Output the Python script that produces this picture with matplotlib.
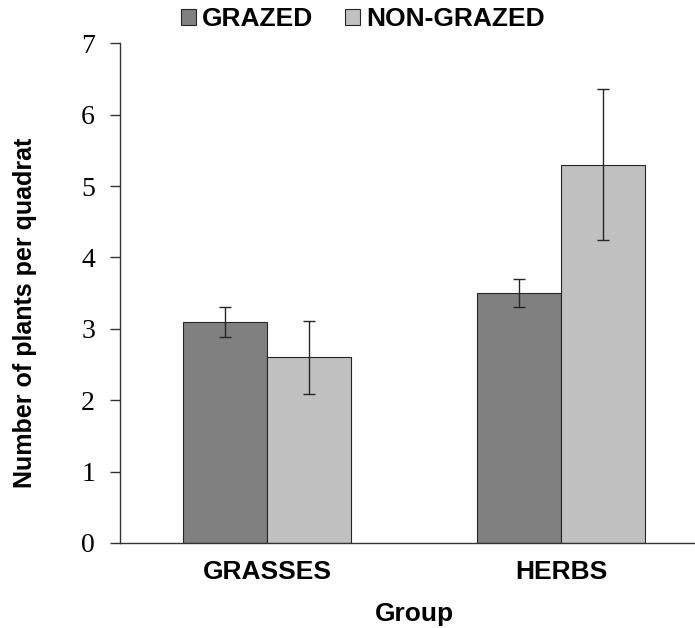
import matplotlib
matplotlib.use("Agg")
import matplotlib.pyplot as plt
from matplotlib.patches import Patch
import numpy as np

groups = ["GRASSES", "HERBS"]
series = ["GRAZED", "NON-GRAZED"]
grazed = [3.1, 3.5]
grazed_err = [0.21, 0.2]
nongrazed = [2.6, 5.3]
nongrazed_err = [0.51, 1.06]
colors = ["#808080", "#c0c0c0"]
yticks = [0, 1, 2, 3, 4, 5, 6, 7]

W, H = 695, 628
fig = plt.figure(figsize=(W / 100, H / 100), dpi=100)
ax = fig.add_axes([120 / W, 85 / H, (708 - 120) / W, 499.7 / H])

x = np.arange(len(groups))
bw = 0.2857
ekw = dict(ecolor="#262626", elinewidth=1.0, capsize=4.2, capthick=1.0)
ax.bar(x - bw / 2, grazed, bw, color=colors[0], edgecolor="#262626", linewidth=0.8,
       yerr=grazed_err, error_kw=ekw, zorder=2)
ax.bar(x + bw / 2, nongrazed, bw, color=colors[1], edgecolor="#262626", linewidth=0.8,
       yerr=nongrazed_err, error_kw=ekw, zorder=2)

ax.set_xlim(-0.5, 1.5)
ax.set_ylim(0, 7)
ax.set_yticks(yticks)
ax.set_yticklabels([str(v) for v in yticks], fontfamily="Liberation Serif", fontsize=20)
ax.set_xticks(x)
ax.set_xticklabels(groups, fontfamily="Liberation Sans", fontweight="bold", fontsize=19)
ax.tick_params(axis="x", length=0, pad=12)
ax.tick_params(axis="y", length=7, width=1, color="#333333", pad=11, direction="out")

for s in ["top", "right"]:
    ax.spines[s].set_visible(False)
for s in ["left", "bottom"]:
    ax.spines[s].set_color("#333333")
    ax.spines[s].set_linewidth(1.0)

ax.set_xlabel("Group", fontfamily="Liberation Sans", fontweight="bold", fontsize=19)
ax.xaxis.set_label_coords(0.5, (26.3 - 85) / 499.7)
ax.xaxis.label.set_va("top")

ax.set_ylabel("Number of plants per quadrat", fontfamily="Liberation Sans",
              fontweight="bold", fontsize=18)
ax.yaxis.set_label_coords((37 - 120) / 588, (315.5 - 85) / 499.7)

handles = [Patch(facecolor=colors[0], edgecolor="#262626", linewidth=0.8),
           Patch(facecolor=colors[1], edgecolor="#262626", linewidth=0.8)]
fig.legend(handles, series, loc="center", bbox_to_anchor=(363 / W, 1 - 19.5 / H),
           ncol=2, frameon=False, handlelength=0.55, handleheight=0.55,
           handletextpad=0.25, columnspacing=1.2,
           prop=dict(family="Liberation Sans", weight="bold", size=19))

fig.savefig("out.png", dpi=100)
